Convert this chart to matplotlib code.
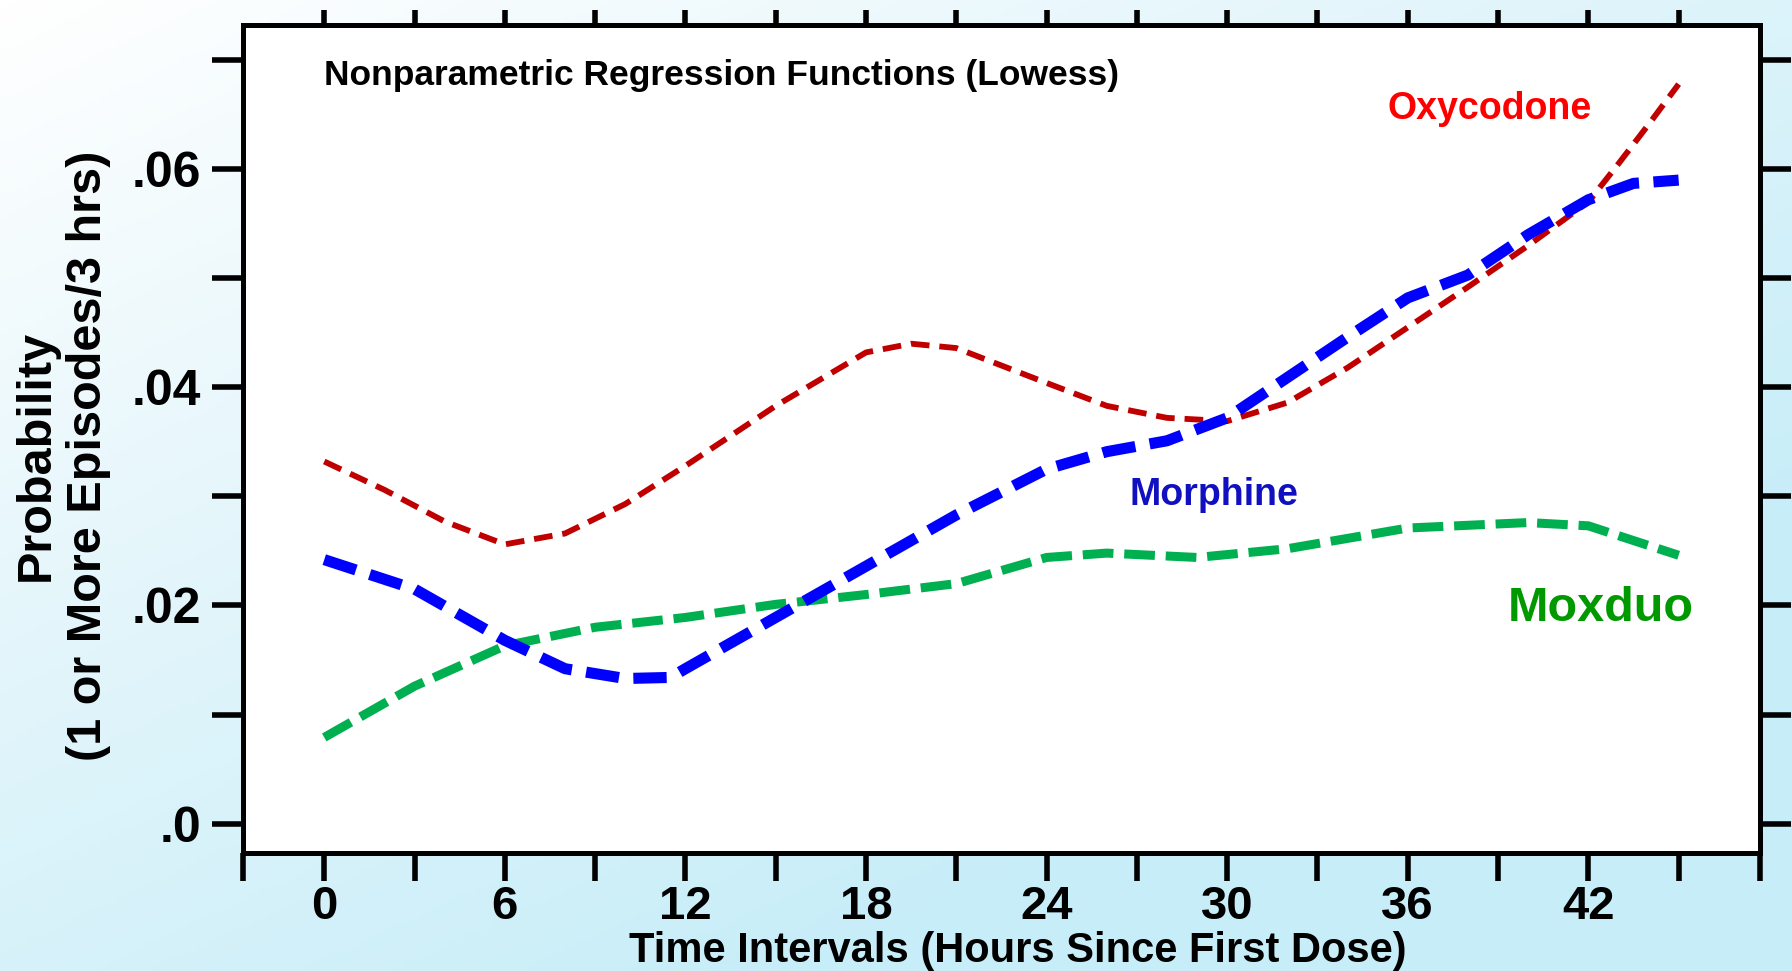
import matplotlib.pyplot as plt
import numpy as np
from matplotlib.colors import LinearSegmentedColormap
from matplotlib.ticker import FixedLocator, NullFormatter

# values
hours_oxy = [0, 2, 4, 6, 8, 10, 12, 15, 18, 19.5, 21, 24, 26, 28, 30, 32, 34, 36, 38, 40, 42,
             43, 44, 45]
prob_oxy = [0.0332, 0.0306, 0.0277, 0.0256, 0.0266, 0.0293, 0.0328, 0.0383, 0.0432, 0.0440,
            0.0436, 0.0404, 0.0383, 0.0372, 0.0369, 0.0386, 0.0418, 0.0455, 0.0492, 0.0530,
            0.0570, 0.0605, 0.0641, 0.0678]

hours_mor = [0, 3, 6, 8, 10, 11.5, 12, 15, 18, 21, 24, 26, 28, 30, 32, 34, 36, 38, 40, 42,
             43.5, 45]
prob_mor = [0.0242, 0.0215, 0.0168, 0.0142, 0.0133, 0.0134, 0.0142, 0.0189, 0.0236, 0.0283,
            0.0325, 0.0341, 0.0351, 0.0372, 0.0409, 0.0446, 0.0482, 0.0503, 0.0540, 0.0572,
            0.0587, 0.0590]

hours_mox = [0, 3, 6, 9, 12, 15, 18, 21, 24, 26, 29, 32, 36, 40, 42, 45]
prob_mox = [0.0079, 0.0126, 0.0163, 0.0180, 0.0189, 0.0201, 0.0210, 0.0220, 0.0244, 0.0248,
            0.0244, 0.0252, 0.0271, 0.0276, 0.0273, 0.0246]

x_ticks = [0, 6, 12, 18, 24, 30, 36, 42]
x_labels = ["0", "6", "12", "18", "24", "30", "36", "42"]
y_ticks = [0.0, 0.02, 0.04, 0.06]
y_labels = [".0", ".02", ".04", ".06"]


def main():
    fig = plt.figure(figsize=(17.92, 9.71), dpi=100)

    # soft light-blue background
    bg = fig.add_axes([0, 0, 1, 1], zorder=-10)
    gx, gy = np.meshgrid(np.linspace(0, 1, 200), np.linspace(0, 1, 200))
    grad = np.clip(0.6 * gx + 0.7 * gy, 0, 1)
    cmap = LinearSegmentedColormap.from_list("bgc", ["#ffffff", "#e2f5fb", "#c6edf8"])
    bg.imshow(grad, cmap=cmap, aspect="auto", extent=[0, 1, 0, 1])
    bg.axis("off")

    ax = fig.add_axes([0.1356, 0.1215, 0.8465, 0.8525])
    ax.set_facecolor("white")

    ax.plot(hours_oxy, prob_oxy, color="#c00000", lw=4.2, dashes=(3.2, 1.7))
    ax.plot(hours_mox, prob_mox, color="#00b050", lw=6.5, dashes=(3.4, 1.2))
    ax.plot(hours_mor, prob_mor, color="#0000ff", lw=8, dashes=(3.0, 1.3))

    ax.set_xlim(-2.7, 47.7)
    ax.set_ylim(-0.0027, 0.0732)

    ax.set_xticks(x_ticks)
    ax.set_xticklabels(x_labels, fontsize=34, fontweight="bold",
                       family=["Liberation Sans Narrow", "Liberation Sans"])
    ax.xaxis.set_minor_locator(FixedLocator([-2.7, 3, 9, 15, 21, 27, 33, 39, 45, 47.7]))
    ax.set_yticks(y_ticks)
    ax.set_yticklabels(y_labels, fontsize=36, fontweight="bold", family="Liberation Sans")
    ax.yaxis.set_minor_locator(FixedLocator([0.01, 0.03, 0.05, 0.07]))

    ax.tick_params(axis="y", which="both", direction="out", length=22, width=4,
                   right=True, labelright=False, pad=8)
    ax.tick_params(axis="x", which="both", direction="out", length=20, width=4,
                   top=False, pad=3)

    # shorter ticks along the top
    top = ax.secondary_xaxis("top")
    top.set_xticks(np.arange(0, 46, 3))
    top.xaxis.set_major_formatter(NullFormatter())
    top.tick_params(direction="out", length=11, width=4)
    top.spines["top"].set_linewidth(3.6)

    for s in ax.spines.values():
        s.set_linewidth(3.6)

    ax.set_xlabel("Time Intervals (Hours Since First Dose)", fontsize=30, fontweight="bold",
                  family=["Liberation Sans Narrow", "Liberation Sans"])
    ax.xaxis.set_label_coords(0.511, -0.094)
    ax.set_ylabel("Probability\n(1 or More Episodes/3 hrs)", fontsize=35, fontweight="bold",
                  family="Liberation Sans", linespacing=1.2)
    ax.yaxis.set_label_coords(-0.087, 0.48)

    ax.text(0, 0.0686, "Nonparametric Regression Functions (Lowess)", fontsize=25.5,
            fontweight="bold", family="Liberation Sans", va="center", ha="left")
    ax.text(42.1, 0.0655, "Oxycodone", color="#ff0000", fontsize=27, fontweight="bold",
            family="Liberation Sans", va="center", ha="right")
    ax.text(26.74, 0.0301, "Morphine", color="#1010c0", fontsize=27, fontweight="bold",
            family="Liberation Sans", va="center", ha="left")
    ax.text(45.5, 0.0197, "Moxduo", color="#009900", fontsize=35, fontweight="bold",
            family="Liberation Sans", va="center", ha="right")

    plt.savefig("out.png", dpi=100)


if __name__ == "__main__":
    main()
